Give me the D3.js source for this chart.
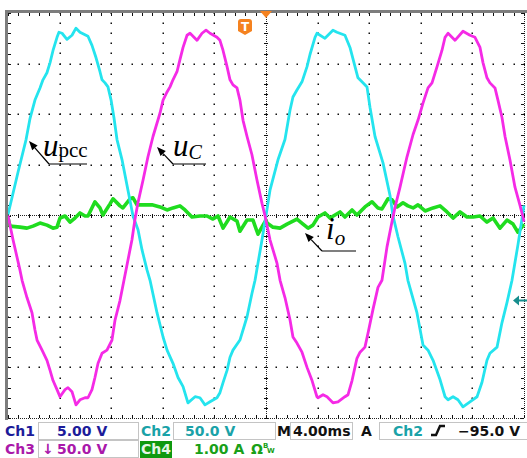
<!DOCTYPE html>
<html>
<head>
<meta charset="utf-8">
<script src="https://cdn.jsdelivr.net/npm/d3@7"></script>
<style>
  body { margin: 0; background: #fff; }
  svg { display: block; }
</style>
</head>
<body>
<svg id="scope" width="527" height="458"></svg>
<script>
// Horizontal: 4 ms/div over 10 divisions, trigger at centre.
const timeRange = [-20, 20];      // ms
// Vertical: 8 divisions. Ch2 / Ch3 at 50 V/div, Ch4 at 1 A/div.
const voltRange = [-200, 200];    // V
const currRange = [-4, 4];        // A

// Ch2: u_pcc  [t (ms), V]
const upcc = [
  [-20.0,1],[-19.22,43],[-18.6,75],[-18.29,96],[-17.91,114],[-17.52,126],[-17.29,134],[-16.98,141],
  [-16.74,151],[-16.51,163],[-16.2,176],[-16.05,181],[-15.81,180],[-15.43,174],[-15.04,178],[-14.73,185],
  [-14.42,181],[-14.11,179],[-13.8,177],[-13.49,168],[-13.18,156],[-12.87,142],[-12.71,134],[-12.48,131],
  [-12.25,127],[-12.01,114],[-11.78,96],[-11.55,75],[-11.16,55],[-10.7,25],[-10.31,-0.5],[-9.92,-14],
  [-9.61,-34],[-9.22,-54],[-8.99,-64],[-8.45,-96],[-7.98,-120],[-7.67,-133],[-7.21,-146],[-6.82,-160],
  [-6.43,-169],[-6.05,-185],[-5.5,-179],[-5.12,-180],[-4.73,-187],[-4.34,-184],[-3.8,-180],[-3.57,-175],
  [-3.33,-165],[-3.02,-153],[-2.79,-140],[-2.56,-133],[-2.02,-123],[-1.47,-100],[-1.09,-77],[-0.85,-64],
  [-0.31,-24],[0,0],[0.31,25],[0.93,55],[1.47,75],[1.86,104],[2.09,117],[2.4,124],[2.79,132],[3.18,147],
  [3.41,159],[3.8,176],[3.95,180],[4.57,175],[5.19,183],[5.5,181],[6.12,178],[6.51,166],[6.9,147],
  [7.13,136],[7.44,132],[7.83,127],[8.06,107],[8.45,78],[9.07,52],[9.61,20],[9.84,0],[10.23,-21],
  [10.77,-47],[11.0,-64],[11.7,-96],[12.17,-128],[12.56,-133],[12.95,-143],[13.49,-162],[13.88,-179],
  [14.11,-182],[14.5,-179],[14.88,-182],[15.27,-189],[15.81,-184],[16.36,-179],[16.74,-165],[17.13,-143],
  [17.36,-136],[17.91,-130],[18.29,-106],[18.68,-86],[19.07,-64],[19.53,-29],[19.92,3],[20.0,10]
];

// Ch3: u_C  [t (ms), V]
const uC = [
  [-20.0,0],[-19.61,-24],[-19.07,-54],[-18.91,-64],[-18.53,-81],[-18.14,-96],[-17.91,-113],[-17.75,-123],
  [-17.36,-133],[-16.98,-143],[-16.74,-153],[-16.51,-163],[-16.2,-172],[-15.97,-179],[-15.58,-172],
  [-15.35,-170],[-15.04,-174],[-14.73,-187],[-14.42,-182],[-14.03,-180],[-13.8,-180],[-13.49,-172],
  [-13.26,-160],[-13.02,-146],[-12.71,-136],[-12.33,-133],[-11.94,-123],[-11.7,-103],[-11.32,-84],
  [-11.01,-64],[-10.39,-24],[-10.16,-4],[-9.92,13],[-9.53,35],[-9.15,58],[-8.76,78],[-8.22,101],
  [-7.98,114],[-7.67,122],[-7.44,127],[-7.21,134],[-6.9,142],[-6.67,154],[-6.43,166],[-6.12,178],
  [-5.89,180],[-5.35,173],[-4.96,180],[-4.65,183],[-4.34,180],[-3.8,176],[-3.57,173],[-3.33,163],
  [-3.02,147],[-2.79,134],[-2.56,129],[-2.25,126],[-2.02,114],[-1.78,94],[-1.47,78],[-1.09,60],
  [-0.7,35],[-0.31,12],[-0.08,0],[0.31,-24],[0.85,-47],[1.09,-64],[1.47,-81],[1.86,-103],[2.09,-120],
  [2.4,-126],[2.79,-135],[3.18,-150],[3.57,-163],[3.95,-179],[4.03,-180],[4.42,-177],[4.73,-179],
  [5.19,-185],[5.58,-184],[6.12,-179],[6.36,-177],[6.67,-163],[7.05,-141],[7.29,-135],[7.67,-130],
  [7.91,-116],[8.29,-93],[8.68,-71],[8.99,-64],[9.38,-31],[9.77,-6],[10.0,8],[10.39,28],[10.93,58],
  [11.4,80],[11.78,94],[12.17,111],[12.56,126],[12.87,131],[13.26,147],[13.64,163],[13.88,176],
  [14.11,180],[14.65,173],[15.27,182],[15.81,178],[16.2,176],[16.59,166],[16.82,151],[17.13,136],
  [17.36,131],[17.75,126],[17.98,114],[18.29,97],[18.53,78],[18.91,55],[19.3,28],[19.69,10],
  [19.92,-1.5],[20.0,-6]
];

// Ch4: i_o  [t (ms), A]
const io = [
  [-20.0,-0.05],[-19.84,-0.21],[-19.07,-0.23],[-18.53,-0.25],[-18.06,-0.21],[-17.52,-0.15],[-16.98,-0.19],
  [-16.51,-0.25],[-16.2,-0.23],[-15.97,-0.05],[-15.58,-0.01],[-15.19,-0.13],[-14.81,-0.05],[-14.42,0.05],
  [-14.03,-0.01],[-13.8,-0.01],[-13.26,0.27],[-12.87,0.15],[-12.64,0.01],[-12.09,0.23],[-11.86,0.33],
  [-11.32,0.19],[-11.09,0.15],[-10.54,0.33],[-10.31,0.35],[-10.0,0.21],[-9.77,0.21],[-9.22,0.21],
  [-8.84,0.21],[-8.22,0.17],[-7.67,0.11],[-7.21,0.15],[-6.67,0.19],[-6.28,0.11],[-5.74,-0.03],
  [-5.12,-0.01],[-4.57,-0.01],[-4.11,-0.07],[-3.72,-0.01],[-3.33,-0.25],[-2.79,-0.03],[-2.25,-0.11],
  [-2.02,-0.31],[-1.47,-0.09],[-1.01,-0.09],[-0.62,-0.37],[-0.23,-0.19],[0,-0.09],[0.08,-0.15],
  [0.54,-0.23],[1.09,-0.25],[1.63,-0.17],[2.4,-0.07],[2.87,-0.17],[3.26,-0.25],[3.64,-0.19],[4.03,-0.03],
  [4.57,0.05],[4.96,-0.05],[5.74,0.07],[6.12,-0.03],[6.67,0.11],[7.05,0.01],[7.67,0.17],[8.22,0.27],
  [8.68,0.15],[8.99,0.13],[9.46,0.33],[9.77,0.31],[10.16,0.17],[10.62,0.25],[11.0,0.19],[11.4,0.15],
  [11.78,0.21],[12.33,0.09],[12.95,0.15],[13.49,0.19],[14.03,0.07],[14.5,-0.05],[15.04,0.07],
  [15.58,-0.03],[16.05,-0.03],[16.59,-0.01],[17.13,-0.13],[17.6,-0.05],[18.14,-0.25],[18.68,-0.09],
  [19.15,-0.17],[19.53,-0.33],[20.0,-0.17]
];

// Readout panel text
const ch1Scale = "5.00 V";
const ch2Scale = "50.0 V";
const ch3Scale = "50.0 V";
const ch4Scale = "1.00 A";
const timeBase = "4.00ms";
const trigSource = "Ch2";
const trigLevel = "\u221295.0 V";
const trigMarkDiv = -1.68;   // trigger-level pointer on the right edge, in divisions

const svg = d3.select("#scope");
const L = 8, R = 524, T = 13, B = 418;

const x  = d3.scaleLinear().domain(timeRange).range([L, R]);
const yV = d3.scaleLinear().domain(voltRange).range([B, T]);
const yA = d3.scaleLinear().domain(currRange).range([B, T]);
const yDiv = d3.scaleLinear().domain([-4, 4]).range([B, T]);

const cx = x(0), cy = yV(0);
const minorT = d3.range(timeRange[0], timeRange[1] + 0.001, 0.8);
const minorV = d3.range(voltRange[0], voltRange[1] + 0.001, 10);
const majorT = d3.range(-16, 16.1, 4).filter(v => v !== 0);
const majorV = d3.range(-150, 151, 50).filter(v => v !== 0);

// ---- graticule ----
const grid = svg.append("g");
// dotted division lines (one dot per minor step)
majorT.forEach(t => {
  grid.selectAll(null).data(minorV).join("rect")
    .attr("x", Math.round(x(t)) - 0.5).attr("y", v => Math.round(yV(v)) - 0.5)
    .attr("width", 1.5).attr("height", 1.5).attr("fill", "#111");
});
majorV.forEach(v => {
  grid.selectAll(null).data(minorT).join("rect")
    .attr("x", t => Math.round(x(t)) - 0.5).attr("y", Math.round(yV(v)) - 0.5)
    .attr("width", 1.5).attr("height", 1.5).attr("fill", "#111");
});

// centre cross and the right/bottom edges as fine dotted lines
const dense = [
  [L, cy, R, cy], [cx, T, cx, B], [L, B, R, B], [R, T, R, B]
];
grid.selectAll(null).data(dense).join("line")
  .attr("x1", d => d[0]).attr("y1", d => d[1]).attr("x2", d => d[2]).attr("y2", d => d[3])
  .attr("stroke", "#222").attr("stroke-width", 1).attr("stroke-dasharray", "1,1")
  .attr("shape-rendering", "crispEdges");

function tickAxis(axis, tx, ty) {
  const g = grid.append("g").attr("transform", `translate(${tx},${ty})`).call(axis);
  g.select(".domain").remove();
  g.selectAll(".tick line").attr("stroke", "#111").attr("shape-rendering", "crispEdges");
  return g;
}
const tv = minorT, vv = minorV;
tickAxis(d3.axisBottom(x).tickValues(tv).tickSize(3).tickFormat(""), 0, T);
tickAxis(d3.axisTop(x).tickValues(tv).tickSize(3).tickFormat(""), 0, B);
tickAxis(d3.axisRight(yV).tickValues(vv).tickSize(3).tickFormat(""), L, 0);
tickAxis(d3.axisLeft(yV).tickValues(vv).tickSize(3).tickFormat(""), R, 0);
tickAxis(d3.axisBottom(x).tickValues(tv).tickSize(2).tickFormat(""), 0, cy);
tickAxis(d3.axisTop(x).tickValues(tv).tickSize(2).tickFormat(""), 0, cy);
tickAxis(d3.axisRight(yV).tickValues(vv).tickSize(2).tickFormat(""), cx, 0);
tickAxis(d3.axisLeft(yV).tickValues(vv).tickSize(2).tickFormat(""), cx, 0);

// bevelled top/left frame
svg.append("rect").attr("x", 5).attr("y", 10).attr("width", 522).attr("height", 3).attr("fill", "#7d7d7d");
svg.append("rect").attr("x", 5).attr("y", 10).attr("width", 3).attr("height", 410).attr("fill", "#7d7d7d");

// ---- traces ----
svg.append("clipPath").attr("id", "plotClip")
  .append("rect").attr("x", L).attr("y", T).attr("width", R - L + 2).attr("height", B - T);
const traces = svg.append("g").attr("clip-path", "url(#plotClip)");

const lineV = d3.line().x(d => x(d[0])).y(d => yV(d[1]));
const lineA = d3.line().x(d => x(d[0])).y(d => yA(d[1]));

traces.append("path").datum(io).attr("d", lineA)
  .attr("fill", "none").attr("stroke", "#1fdc1f").attr("stroke-width", 3.6)
  .attr("stroke-linejoin", "round");
traces.append("path").datum(upcc).attr("d", lineV)
  .attr("fill", "none").attr("stroke", "#24e4ee").attr("stroke-width", 2.8)
  .attr("stroke-linejoin", "round");
traces.append("path").datum(uC).attr("d", lineV)
  .attr("fill", "none").attr("stroke", "#f52ae6").attr("stroke-width", 2.8)
  .attr("stroke-linejoin", "round");

// ---- markers ----
const orange = "#f5821f";
// trigger position
svg.append("path")
  .attr("d", `M${cx - 6},${T - 2} L${cx + 6},${T - 2} L${cx},${T + 5} Z`).attr("fill", orange);
// trigger badge
const bx = cx - 28, by = 19;
svg.append("path")
  .attr("d", `M${bx},${by + 3} Q${bx},${by} ${bx + 3},${by} L${bx + 11},${by} Q${bx + 14},${by} ${bx + 14},${by + 3}
              L${bx + 14},${by + 12} L${bx + 7},${by + 16} L${bx},${by + 12} Z`)
  .attr("fill", orange);
svg.append("text").attr("x", bx + 7).attr("y", by + 12).attr("text-anchor", "middle")
  .attr("font-family", "DejaVu Sans").attr("font-weight", "bold").attr("font-size", 12)
  .attr("fill", "#fff").text("T");
// Ch2 trigger-level pointer
const ty = yDiv(trigMarkDiv);
svg.append("path")
  .attr("d", `M${R - 11},${ty} L${R - 5},${ty - 5} L${R - 5},${ty - 1} L${R + 3},${ty - 1} L${R + 3},${ty + 1} L${R - 5},${ty + 1} L${R - 5},${ty + 5} Z`)
  .attr("fill", "#178e8e");

// ---- trace annotations ----
const ann = svg.append("g");
function pointer(sx, sy, ex, ey, tailX) {
  ann.append("line").attr("x1", sx).attr("y1", sy).attr("x2", tailX).attr("y2", sy)
    .attr("stroke", "#000").attr("stroke-width", 1.2);
  const ang = Math.atan2(ey - sy, ex - sx), len = 9, hw = 3.6;
  const bxp = ex - len * Math.cos(ang), byp = ey - len * Math.sin(ang);
  ann.append("line").attr("x1", sx).attr("y1", sy).attr("x2", bxp).attr("y2", byp)
    .attr("stroke", "#000").attr("stroke-width", 1.2);
  const px = -Math.sin(ang) * hw, py = Math.cos(ang) * hw;
  ann.append("path")
    .attr("d", `M${ex},${ey} L${bxp + px},${byp + py} L${bxp - px},${byp - py} Z`).attr("fill", "#000");
}
pointer(49, 164, 29, 141, 87);
pointer(173, 164, 157, 147, 206);
pointer(322, 251, 305, 233, 356);

function symbol(xp, yp, main, sub, subItalic, mainSize, subSize, subDy) {
  const t = ann.append("text").attr("x", xp).attr("y", yp)
    .attr("font-family", "Liberation Serif").attr("fill", "#000");
  t.append("tspan").attr("font-style", "italic").attr("font-size", mainSize).text(main);
  t.append("tspan").attr("font-style", subItalic ? "italic" : "normal")
    .attr("font-size", subSize).attr("dy", subDy).text(sub);
}
symbol(43, 156, "u", "pcc", false, 31, 21, 1);
symbol(173, 156, "u", "C", true, 31, 20, 3);
symbol(326, 239, "i", "o", true, 31, 21, 6);

// ---- readout panel ----
const panel = svg.append("g")
  .attr("font-family", "DejaVu Sans").attr("font-weight", "bold").attr("font-size", 14);
const boxes = [
  [38.5, 422.5, 100, 17], [173.5, 422.5, 102, 17], [290.5, 422.5, 62, 17],
  [379.5, 422.5, 148, 17], [38.5, 440.5, 100, 17]
];
panel.selectAll("rect.box").data(boxes).join("rect").attr("class", "box")
  .attr("x", d => d[0]).attr("y", d => d[1]).attr("width", d => d[2]).attr("height", d => d[3])
  .attr("fill", "#fff").attr("stroke", "#c4c4c4").attr("stroke-width", 1);
panel.append("rect").attr("x", 140).attr("y", 441).attr("width", 32).attr("height", 17).attr("fill", "#0f990f");

const blue = "#1c1c9a", teal = "#1aa2a8", purple = "#aa18aa", green = "#19a019";
const r1 = 436, r2 = 454;
function txt(xp, yp, s, c, extra) {
  const t = panel.append("text").attr("x", xp).attr("y", yp).attr("fill", c).text(s);
  if (extra) extra(t);
  return t;
}
txt(5, r1, "Ch1", blue);
txt(57, r1, ch1Scale, blue);
txt(141, r1, "Ch2", teal);
txt(185, r1, ch2Scale, teal);
txt(277, r1, "M", "#111");
txt(293, r1, timeBase, "#111");
txt(361, r1, "A", "#111");
txt(393, r1, trigSource, teal);
panel.append("path").attr("d", `M431,${r1 - 1} L436,${r1 - 1} L440,${r1 - 10} L445,${r1 - 10}`)
  .attr("fill", "none").attr("stroke", "#111").attr("stroke-width", 2.4);
txt(458, r1, trigLevel, "#111");
txt(5, r2, "Ch3", purple);
txt(42, r2, "\u2193", purple);
txt(57, r2, ch3Scale, purple);
txt(141, r2, "Ch4", "#e6f6e6");
txt(194, r2, ch4Scale, green);
txt(251, r2, "\u03A9", green);
txt(263, r2 - 6, "B", green, t => t.attr("font-size", 7));
txt(267, r2 - 1, "W", green, t => t.attr("font-size", 7));
</script>
</body>
</html>
